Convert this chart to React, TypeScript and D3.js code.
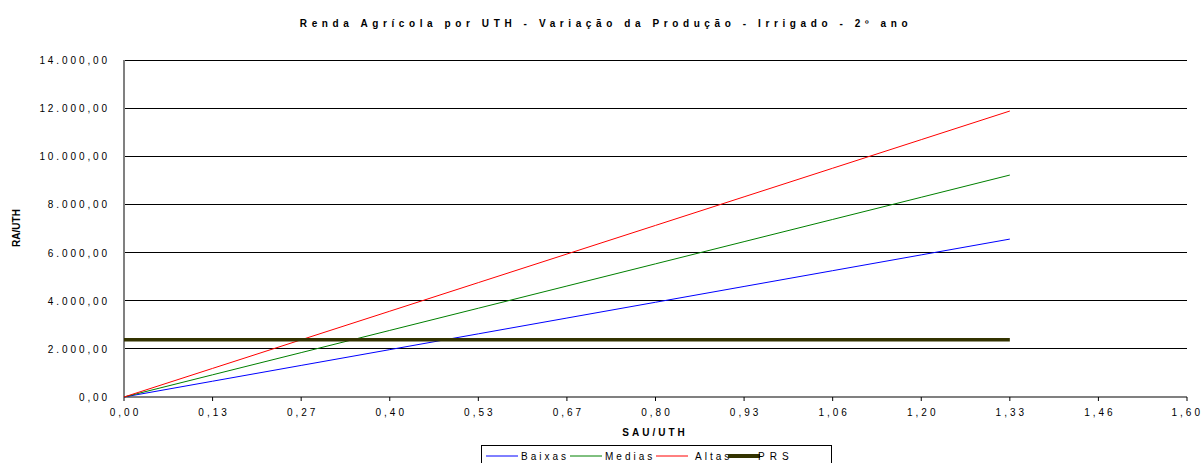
import React from "react";
import * as d3 from "d3";

const xTickLabels = ["0,00","0,13","0,27","0,40","0,53","0,67","0,80","0,93","1,06","1,20","1,33","1,46","1,60"];
const yTicks = [0, 2000, 4000, 6000, 8000, 10000, 12000, 14000];
const baixas = [0, 656, 1312, 1968, 2624, 3280, 3936, 4592, 5248, 5904, 6560];
const medias = [0, 922, 1844, 2766, 3688, 4610, 5532, 6454, 7376, 8298, 9220];
const altas = [0, 1188, 2376, 3564, 4752, 5940, 7128, 8316, 9504, 10692, 11880];
const prs = [2380, 2380, 2380, 2380, 2380, 2380, 2380, 2380, 2380, 2380, 2380];

const series = [
  { name: "Baixas", values: baixas, color: "#0000FF", width: 1 },
  { name: "Medias", values: medias, color: "#008000", width: 1 },
  { name: "Altas", values: altas, color: "#FF0000", width: 1 },
  { name: "PRS", values: prs, color: "#333300", width: 3.5 },
];

const fmtY = (v: number) => {
  const s = d3.format(",.2f")(v);
  return s.replace(/,/g, "#").replace(".", ",").replace(/#/g, ".");
};

export default function App() {
  const W = 1202, H = 463;
  const left = 124, right = 1187, top = 60, bottom = 397;
  const x = d3.scaleLinear().domain([0, xTickLabels.length - 1]).range([left, right]);
  const y = d3.scaleLinear().domain([0, 14000]).range([bottom, top]);
  const line = d3.line<number>().x((_, i) => x(i)).y((d) => y(d));
  const font = "'Liberation Sans', Arial, sans-serif";

  const legendItems = [
    { name: "Baixas", color: "#0000FF", w: 1, lx: 486, tx: 521 },
    { name: "Medias", color: "#008000", w: 1, lx: 570, tx: 605 },
    { name: "Altas", color: "#FF0000", w: 1, lx: 656, tx: 695 },
    { name: "PRS", color: "#333300", w: 4, lx: 728, tx: 758 },
  ];

  return (
    <svg width={W} height={H} style={{ position: "fixed", left: 0, top: 0, background: "#fff" }} fontFamily={font}>
      <rect x={0} y={0} width={W} height={H} fill="#fff" />
      <text x={606} y={27} textAnchor="middle" fontSize={10} fontWeight="bold" letterSpacing={4.6}>
        Renda Agrícola por UTH - Variação da Produção - Irrigado - 2º ano
      </text>
      {yTicks.map((t) => (
        <g key={t}>
          {t > 0 && <line x1={left} x2={right} y1={y(t)} y2={y(t)} stroke="#000" strokeWidth={1} shapeRendering="crispEdges" />}
          <text x={110} y={y(t) + 4} textAnchor="end" fontSize={10} letterSpacing={2.9} fill="#000">
            {fmtY(t)}
          </text>
        </g>
      ))}
      <line x1={left} x2={left} y1={top} y2={bottom} stroke="#808080" strokeWidth={2} />
      <line x1={left} x2={right} y1={bottom} y2={bottom} stroke="#808080" strokeWidth={2} />
      {xTickLabels.map((l, i) => {
        const last = i === xTickLabels.length - 1;
        return (
          <g key={l}>
            <line x1={x(i)} x2={x(i)} y1={bottom} y2={bottom + 4} stroke="#000" strokeWidth={1} />
            <text x={last ? 1203 : x(i) + 1.5} y={416} textAnchor={last ? "end" : "middle"} fontSize={10} letterSpacing={3} fill="#000">
              {l}
            </text>
          </g>
        );
      })}
      {series.map((s) => (
        <path key={s.name} d={line(s.values) || ""} fill="none" stroke={s.color} strokeWidth={s.width} />
      ))}
      <text x={655} y={436} textAnchor="middle" fontSize={10} fontWeight="bold" letterSpacing={3}>
        SAU/UTH
      </text>
      <text transform={`translate(20,228) rotate(-90)`} textAnchor="middle" fontSize={10} fontWeight="bold">
        RA/UTH
      </text>
      <rect x={481.5} y={445.5} width={350} height={24} fill="#fff" stroke="#000" strokeWidth={1} />
      {legendItems.map((it) => (
        <g key={it.name}>
          <line x1={it.lx} x2={it.lx + 32} y1={456} y2={456} stroke={it.color} strokeWidth={it.w} />
          <text x={it.tx} y={459.5} fontSize={10} letterSpacing={it.name === "PRS" ? 5 : 3}>{it.name}</text>
        </g>
      ))}
    </svg>
  );
}
